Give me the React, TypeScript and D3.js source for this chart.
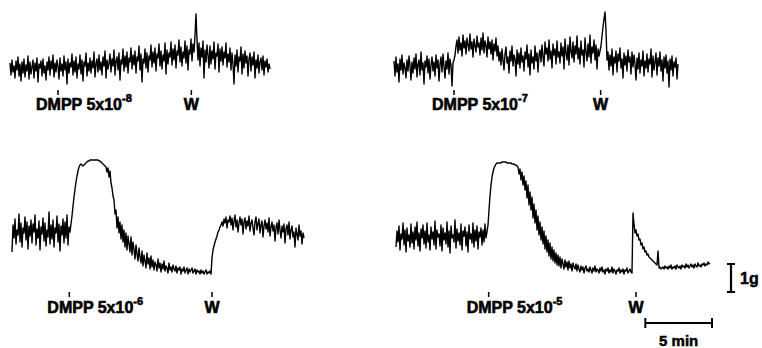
import React from "react";
import * as d3 from "d3";

// Tension traces (arbitrary units, 28 units = 1 g), one sample every 0.075 min
const trace8: number[] = [
  27,15,30,18,24,12,29,20,33,14,26,9,28,17,31,13,25,19,34,11,
  28,16,23,30,12,27,19,32,8,26,22,29,14,31,17,24,10,28,20,33,
  15,29,21,35,13,27,18,30,24,11,32,19,26,14,34,20,28,6,31,17,
  27,23,36,15,29,18,33,12,26,21,35,16,30,9,28,24,37,14,27,19,
  32,17,29,22,38,13,26,31,18,35,20,28,15,33,24,39,12,30,21,27,
  36,18,31,24,40,15,29,33,20,37,10,30,26,41,19,34,23,38,17,32,
  28,42,21,35,25,39,17,33,29,44,20,36,8,31,27,41,22,37,18,34,
  30,45,23,38,27,42,19,36,32,46,24,39,21,35,29,47,16,40,26,37,
  33,48,25,41,30,45,22,39,35,50,28,43,24,38,32,49,27,44,20,40,
  36,51,29,46,38,
  55,76,50,
  30,47,24,42,33,49,12,40,28,45,35,22,
  44,26,39,31,48,21,37,34,46,18,41,29,43,25,38,32,47,23,36,28,
  42,20,37,26,6,35,24,40,18,33,29,43,16,36,22,39,27,34,14,31,
  37,19,33,25,38,12,30,22,35,17,28,32,20,34,15,29,23,31,18,26,21,
];
const trace7: number[] = [
  29,14,33,18,26,8,31,20,35,16,27,22,12,30,19,34,24,10,28,17,
  32,21,36,13,26,30,15,38,20,27,6,29,23,34,17,31,11,25,33,19,
  28,14,35,22,30,9,26,33,18,36,24,12,29,21,37,16,31,25,4,27,30,35,
  44,50,37,53,40,47,34,55,42,49,36,52,45,39,56,41,48,33,51,44,
  38,54,43,47,35,52,40,57,37,49,45,33,53,41,48,36,50,30,46,39,52,34,44,29,
  38,25,41,30,20,36,43,27,33,17,39,29,44,24,35,31,14,40,26,37,
  22,42,28,34,19,38,31,45,23,36,15,40,27,33,21,44,29,37,18,35,
  40,28,45,33,24,48,36,42,29,50,31,39,22,46,35,41,26,49,33,38,
  27,47,34,43,21,51,37,30,45,25,53,39,32,48,28,44,36,54,31,42,
  26,49,35,40,23,52,38,29,46,33,55,27,43,37,50,30,45,21,41,34,39,
  44,54,63,71,78,60,
  30,38,20,35,24,41,15,33,27,39,18,36,29,42,22,31,12,37,25,34,
  19,40,28,33,16,38,23,35,26,10,32,21,37,17,30,24,39,14,29,22,
  36,18,31,26,41,13,34,20,28,37,15,32,24,38,19,30,9,33,22,35,
  17,29,3,31,20,34,14,28,23,32,11,26,
];
const trace6: number[] = [
  28,55,42,61,36,50,45,66,38,57,33,52,47,63,40,58,31,54,44,60,
  37,56,48,65,35,51,42,59,30,53,46,62,39,57,34,50,43,68,36,55,
  41,60,33,52,47,64,38,56,29,54,45,61,37,58,42,65,35,53,48,56,
  64,74,83,91,98,104,109,113,115,116,
  115,114,115,116,117,118,119,119,120,120,
  120,120,120,120,120,120,120,119,119,118,
  117,116,115,114,113,108,112,103,109,97,
  92,84,80,66,70,52,63,47,58,41,
  55,38,50,33,47,30,44,36,28,43,25,38,31,21,35,26,19,32,23,17,
  29,14,25,19,12,27,16,22,11,24,13,20,10,18,15,9,21,12,17,8,
  16,11,19,9,14,12,7,17,10,13,8,15,11,9,14,7,12,10,13,6,
  11,9,13,7,10,12,6,11,8,10,12,7,9,11,6,10,8,9,6,10,
  7,9,6,8,10,6,8,7,9,6,
  22,30,34,38,41,44,48,50,53,55,58,54,61,57,63,52,60,58,64,55,
  62,50,59,65,53,60,48,57,63,55,61,46,58,62,51,59,54,64,49,57,
  60,52,45,58,63,50,56,61,47,55,59,43,54,60,51,57,48,62,44,53,
  58,49,55,39,52,57,46,60,50,42,54,48,56,37,51,55,45,58,41,50,
  54,43,48,33,52,46,40,55,44,49,36,47,42,
];
const trace5: number[] = [
  33,49,38,54,30,46,41,57,35,50,28,52,39,45,33,56,37,48,31,53,
  40,58,34,47,29,51,42,55,36,49,32,57,38,45,30,53,41,48,35,59,
  31,50,43,46,34,55,29,52,40,47,36,58,33,49,27,54,42,45,38,60,
  32,51,39,47,35,56,30,49,44,53,34,48,28,55,41,46,37,57,33,50,
  39,54,31,48,43,52,35,50,38,56,42,48,
  55,70,84,95,103,108,112,114,116,117,
  117,117,117,117,118,118,118,118,118,117,117,117,117,117,116,116,116,115,115,114,
  113,106,111,100,108,95,104,90,99,82,95,75,88,70,83,62,76,57,70,50,
  64,45,58,40,53,36,49,31,44,28,40,24,37,21,33,19,30,17,27,15,
  25,14,23,12,21,16,11,20,13,18,10,19,12,16,9,17,13,11,16,9,
  15,11,8,14,10,13,7,12,14,9,11,8,13,10,7,12,9,14,8,11,
  10,7,12,9,13,8,10,6,11,9,12,7,10,8,13,7,11,9,6,10,
  9,12,7,10,8,11,6,10,9,12,7,9,11,8,7,
  67,56,47,50,44,46,40,41,35,37,31,33,28,29,25,26,23,22,21,20,
  19,18,17,16,15,29,12,13,11,12,
  13,11,14,12,13,11,14,12,15,11,13,12,14,11,15,13,12,14,11,15,
  13,14,12,16,13,15,12,14,16,13,15,12,16,14,13,17,14,15,13,16,
  15,17,14,16,15,18,16,17,
];

const concLabels = ["5x10", "5x10", "5x10", "5x10"];
const concExponents = ["-8", "-7", "-6", "-5"];
const dmppTimes = [3.6, 4.5, 4.3, 6.95];   // min from trace start
const washTimes = [13.6, 15.5, 15.0, 18.0];
const sampleMin = 0.075;
const unitsPerGram = 28;
const timeBarMin = 5;
const timeBarLabel = "5 min";
const forceBarLabel = "1g";

const panels = [
  { data: trace8, x0: 10, base: 90, labelY: 110, tickY: 90 },
  { data: trace7, x0: 394, base: 90, labelY: 110, tickY: 90 },
  { data: trace6, x0: 12, base: 280, labelY: 313, tickY: 292 },
  { data: trace5, x0: 396, base: 280, labelY: 313, tickY: 292 },
];

const PX_PER_MIN = 1 / sampleMin;
const FONT = "'Liberation Sans', Arial, sans-serif";

function Panel({ idx }: { idx: number }) {
  const p = panels[idx];
  const x = d3.scaleLinear().domain([0, 5]).range([p.x0, p.x0 + 5 * PX_PER_MIN]);
  const y = d3.scaleLinear().domain([0, unitsPerGram]).range([p.base, p.base - 28]);
  const line = d3
    .line<number>()
    .x((_, i) => x(i * sampleMin))
    .y((d) => y(d));
  const dx = x(dmppTimes[idx]);
  const wx = x(washTimes[idx]);
  return (
    <g>
      <path d={line(p.data) || ""} fill="none" stroke="#000" strokeWidth={1.4} strokeLinejoin="round" />
      <line x1={dx} x2={dx} y1={p.tickY} y2={p.tickY + 5} stroke="#000" strokeWidth={1.5} />
      <line x1={wx} x2={wx} y1={p.tickY} y2={p.tickY + 5} stroke="#000" strokeWidth={1.5} />
      <text
        x={dx - 22}
        y={p.labelY}
        fontFamily={FONT}
        fontWeight="bold"
        fontSize={16}
        stroke="#000"
        strokeWidth={0.6}
      >
        DMPP {concLabels[idx]}
        <tspan fontSize={11} dy={-8}>{concExponents[idx]}</tspan>
      </text>
      <text
        x={wx}
        y={p.labelY}
        textAnchor="middle"
        fontFamily={FONT}
        fontWeight="bold"
        fontSize={16}
        stroke="#000"
        strokeWidth={0.6}
      >
        W
      </text>
    </g>
  );
}

export default function App() {
  const p = panels[3];
  const x = d3.scaleLinear().domain([0, 5]).range([p.x0, p.x0 + 5 * PX_PER_MIN]);
  const y = d3.scaleLinear().domain([0, unitsPerGram]).range([p.base, p.base - 28]);
  const tb0 = x(18.7);
  const tb1 = x(18.7 + timeBarMin);
  const tbY = 323;
  const fbX = 731;
  const fbTop = y(16);
  const fbBot = y(16 - unitsPerGram * 1);
  return (
    <svg
      width={762}
      height={348}
      style={{ position: "absolute", left: 0, top: 0, background: "#fff" }}
    >
      <rect width={762} height={348} fill="#fff" />
      {panels.map((_, i) => (
        <Panel key={i} idx={i} />
      ))}
      {/* time bar */}
      <line x1={tb0} x2={tb1} y1={tbY} y2={tbY} stroke="#000" strokeWidth={2} />
      <line x1={tb0} x2={tb0} y1={tbY - 5} y2={tbY + 5} stroke="#000" strokeWidth={2} />
      <line x1={tb1} x2={tb1} y1={tbY - 5} y2={tbY + 5} stroke="#000" strokeWidth={2} />
      <text
        x={(tb0 + tb1) / 2}
        y={346}
        textAnchor="middle"
        fontFamily={FONT}
        fontWeight="bold"
        fontSize={15}
        stroke="#000"
        strokeWidth={0.5}
      >
        {timeBarLabel}
      </text>
      {/* force bar */}
      <line x1={fbX} x2={fbX} y1={fbTop} y2={fbBot} stroke="#000" strokeWidth={2.2} />
      <line x1={fbX - 4} x2={fbX + 4} y1={fbTop} y2={fbTop} stroke="#000" strokeWidth={2} />
      <line x1={fbX - 4} x2={fbX + 4} y1={fbBot} y2={fbBot} stroke="#000" strokeWidth={2} />
      <text
        x={fbX + 9}
        y={(fbTop + fbBot) / 2 + 6}
        fontFamily={FONT}
        fontWeight="bold"
        fontSize={16}
        stroke="#000"
        strokeWidth={0.5}
      >
        {forceBarLabel}
      </text>
    </svg>
  );
}
